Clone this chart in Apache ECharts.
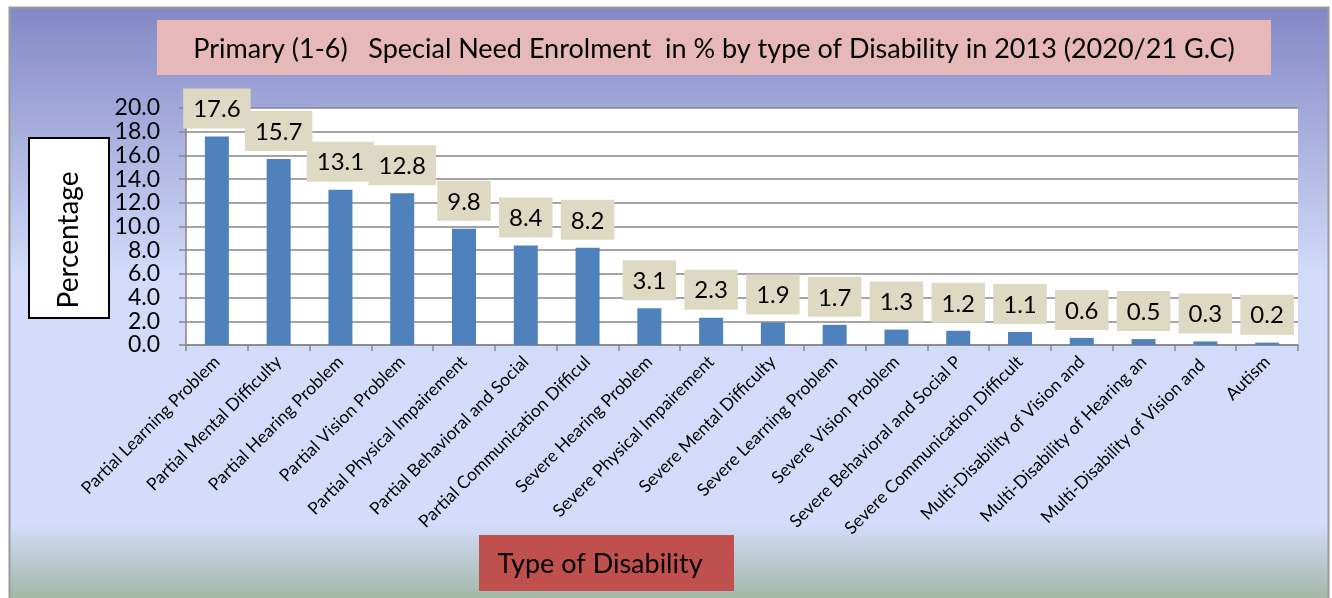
<!DOCTYPE html>
<html>
<head>
<meta charset="utf-8">
<script src="https://cdn.jsdelivr.net/npm/echarts@6/dist/echarts.min.js"></script>
<style>
html,body{margin:0;padding:0;background:#fff;}
#c{width:1332px;height:598px;}
</style>
</head>
<body>
<div id="c"></div>
<script>
const categories = [
  "Partial Learning Problem",
  "Partial Mental Difficulty",
  "Partial Hearing Problem",
  "Partial Vision Problem",
  "Partial Physical Impairement",
  "Partial Behavioral and Social",
  "Partial Communication Difficul",
  "Severe Hearing Problem",
  "Severe Physical Impairement",
  "Severe Mental Difficulty",
  "Severe Learning Problem",
  "Severe Vision Problem",
  "Severe Behavioral and Social P",
  "Severe Communication Difficult",
  "Multi-Disability of Vision and",
  "Multi-Disability of Hearing an",
  "Multi-Disability of Vision and ",
  "Autism"
];
const values = [17.6, 15.7, 13.1, 12.8, 9.8, 8.4, 8.2, 3.1, 2.3, 1.9, 1.7, 1.3, 1.2, 1.1, 0.6, 0.5, 0.3, 0.2];
const yTicks = [0, 2, 4, 6, 8, 10, 12, 14, 16, 18, 20];
const titleText = "Primary (1-6)   Special Need Enrolment  in % by type of Disability in 2013 (2020/21 G.C)";
const yName = "Percentage";
const xName = "Type of Disability";

const FONT = "Lato, 'Open Sans', sans-serif";
const chart = echarts.init(document.getElementById('c'), null, {renderer: 'canvas'});
chart.setOption({
  animation: false,
  backgroundColor: '#ffffff',
  graphic: [
    {type: 'rect', z: -10, shape: {x: 9.5, y: 7.5, width: 1319, height: 600},
     style: {
       fill: new echarts.graphic.LinearGradient(0, 0, 0, 1, [
         {offset: 0, color: '#8388c5'},
         {offset: 0.45, color: '#d2dcfa'},
         {offset: 0.86, color: '#d3dcfb'},
         {offset: 1, color: '#9cb39b'}
       ]),
       stroke: '#9a9a9a', lineWidth: 2
     }},
    {type: 'rect', z: 5, shape: {x: 157, y: 20, width: 1114, height: 55},
     style: {fill: '#e6b8b7'}},
    {type: 'text', z: 6, x: 714, y: 49,
     style: {text: titleText, font: '27px ' + FONT, fill: '#000', align: 'center', verticalAlign: 'middle'}},
    {type: 'rect', z: 5, shape: {x: 29, y: 138, width: 80, height: 180},
     style: {fill: '#ffffff', stroke: '#000', lineWidth: 2}},
    {type: 'text', z: 6, x: 69, y: 240, rotation: Math.PI / 2,
     style: {text: yName, font: '28px ' + FONT, fill: '#000', align: 'center', verticalAlign: 'middle'}},
    {type: 'rect', z: 5, shape: {x: 479, y: 535, width: 255, height: 56},
     style: {fill: '#c0504d'}},
    {type: 'text', z: 6, x: 600, y: 564,
     style: {text: xName, font: '27px ' + FONT, fill: '#000', align: 'center', verticalAlign: 'middle'}}
  ],
  grid: {left: 186, right: 34, top: 108, bottom: 253, show: true, backgroundColor: '#ffffff', borderWidth: 0},
  xAxis: {
    type: 'category',
    data: categories,
    axisLine: {show: true, lineStyle: {color: '#868686', width: 1.5}},
    axisTick: {show: true, length: 6, lineStyle: {color: '#868686', width: 1.5}},
    axisLabel: {interval: 0, rotate: 45, fontSize: 17.5, fontFamily: FONT, color: '#000', margin: 14}
  },
  yAxis: {
    type: 'value',
    min: yTicks[0], max: yTicks[yTicks.length - 1], interval: 2,
    axisLine: {show: true, lineStyle: {color: '#868686', width: 1.5}},
    axisTick: {show: true, length: 7, lineStyle: {color: '#868686', width: 1.5}},
    splitLine: {show: true, lineStyle: {color: '#868686', width: 1.5}},
    axisLabel: {fontSize: 23, fontFamily: FONT, color: '#000', margin: 26, lineHeight: 20,
      showMinLabel: true, showMaxLabel: true, hideOverlap: false,
      formatter: v => v.toFixed(1)}
  },
  series: [{
    type: 'bar',
    data: values,
    barWidth: 24,
    itemStyle: {color: '#4f81bd'},
    label: {
      show: true, position: 'top', distance: 8,
      formatter: p => p.value.toFixed(1),
      fontSize: 24, fontFamily: FONT, color: '#000',
      backgroundColor: '#ddd9c3', padding: [9, 10, 7, 10]
    }
  }]
});
</script>
</body>
</html>
